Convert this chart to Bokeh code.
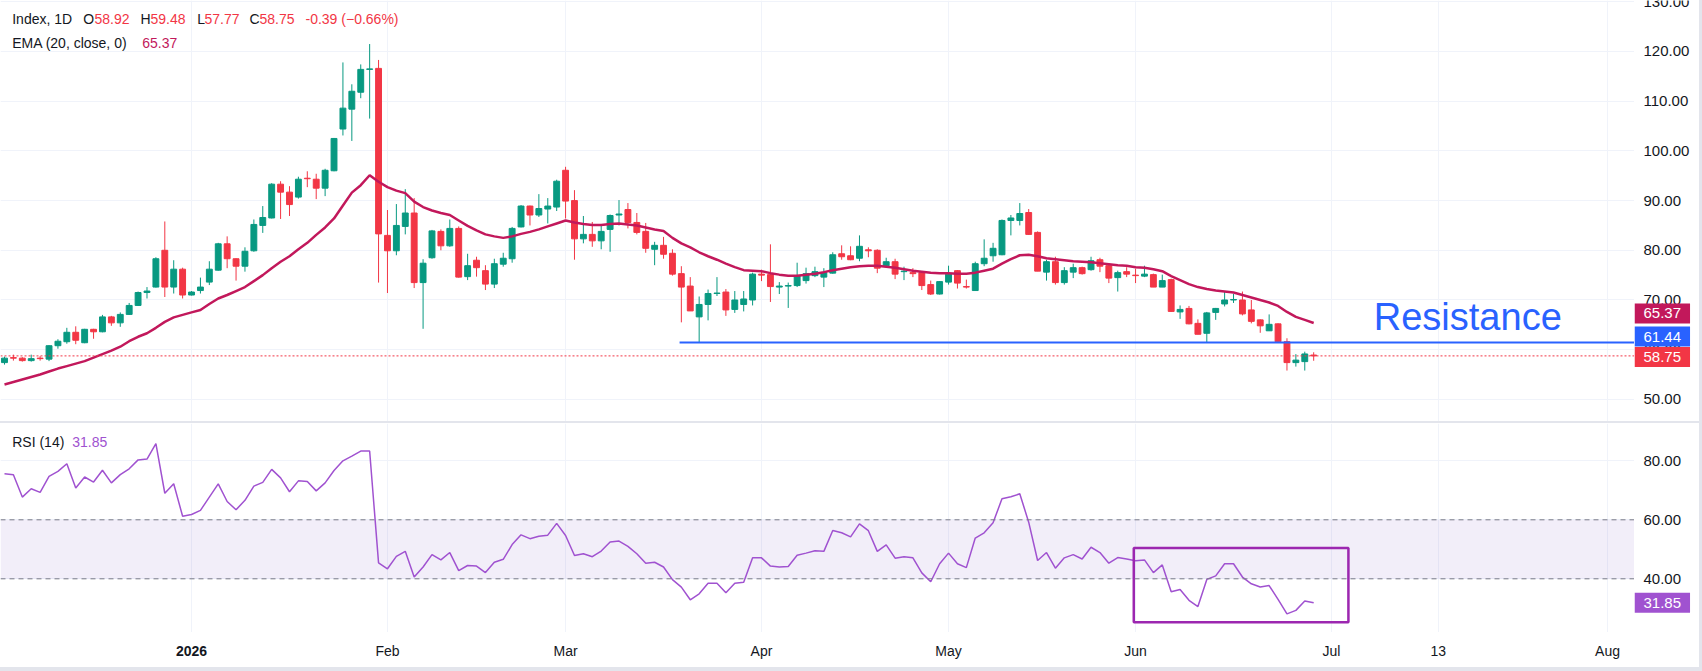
from bokeh.plotting import figure
from bokeh.layouts import column, row
from bokeh.models import (ColumnDataSource, Range1d, FixedTicker, Label, Span,
                          BoxAnnotation, Spacer)
from bokeh.core.properties import value
from bokeh.embed import file_html
from bokeh.resources import INLINE

# ---- daily OHLC bars (bar index 0 = first visible session) ----
opens = [
    57.4, 58.4, 58.3, 57.8, 58.3, 58.1, 60.8, 61.6, 63.5, 61.4,
    64.1, 63.6, 66.6, 65.4, 67.1, 68.9, 71.5, 72.6, 80.0, 72.6,
    76.2, 71.0, 71.9, 73.6, 76.0, 81.3, 78.3, 76.8, 79.9, 85.0,
    86.5, 93.3, 91.7, 90.7, 94.5, 94.3, 92.5, 96.0, 104.4, 108.4,
    111.8, 116.4, 116.6, 83.0, 79.9, 84.8, 87.5, 73.5, 78.5, 83.8,
    80.9, 84.4, 74.7, 78.0, 75.9, 73.2, 77.2, 78.3, 84.7, 88.9,
    87.1, 88.3, 88.7, 96.1, 90.0, 82.3, 83.2, 81.9, 84.2, 87.1,
    88.2, 85.6, 83.8, 80.2, 81.0, 79.4, 75.3, 72.8, 66.6, 69.1,
    71.3, 71.6, 68.1, 69.1, 70.0, 75.2, 75.1, 72.6, 72.8, 72.9,
    73.9, 74.9, 74.6, 75.4, 79.3, 78.9, 78.4, 80.1, 80.0, 76.9,
    77.7, 75.7, 75.5, 75.5, 73.1, 71.2, 73.6, 75.9, 72.7, 71.9,
    77.3, 78.9, 79.1, 86.0, 86.0, 87.6, 83.6, 75.6, 77.7, 73.5,
    75.6, 76.5, 76.1, 78.1, 76.9, 74.5, 75.7, 75.0, 74.8, 75.1,
    72.6, 74.1, 67.6, 68.3, 65.3, 63.3, 67.5, 69.2, 70.0, 70.0,
    68.0, 66.0, 63.8, 65.2, 61.6, 57.4, 57.6, 58.92,
]
highs = [
    58.6, 59.0, 58.5, 59.0, 58.7, 60.9, 62.1, 64.4, 64.7, 64.2,
    64.2, 67.0, 66.8, 67.5, 69.4, 71.7, 72.6, 78.6, 85.8, 78.0,
    76.5, 71.8, 74.5, 77.8, 81.5, 82.8, 78.4, 80.6, 86.2, 88.9,
    93.5, 93.9, 92.9, 94.8, 95.9, 95.4, 96.4, 102.6, 117.8, 113.4,
    117.4, 121.5, 118.3, 88.1, 89.3, 92.3, 90.5, 78.2, 84.1, 84.2,
    86.2, 84.8, 79.3, 78.7, 77.0, 78.3, 79.5, 84.7, 89.1, 89.0,
    91.3, 90.5, 94.2, 96.8, 92.1, 86.9, 85.7, 84.9, 87.2, 90.1,
    89.5, 87.5, 85.5, 81.7, 82.7, 80.2, 76.8, 74.6, 70.7, 72.1,
    74.6, 72.2, 71.8, 71.8, 75.5, 76.1, 81.2, 73.6, 73.5, 77.5,
    76.5, 76.7, 76.4, 79.6, 81.0, 80.8, 83.0, 80.6, 80.2, 78.5,
    78.3, 76.7, 76.4, 75.7, 73.9, 73.8, 76.9, 76.0, 74.1, 77.7,
    82.2, 81.5, 86.2, 87.1, 89.5, 88.3, 83.8, 78.1, 78.7, 76.6,
    77.3, 76.7, 78.7, 78.5, 77.3, 75.9, 76.6, 76.3, 76.9, 75.3,
    75.1, 74.3, 68.9, 68.8, 66.1, 67.6, 68.4, 71.7, 71.2, 71.7,
    70.0, 66.1, 67.1, 65.3, 62.3, 59.1, 59.6, 59.48,
]
lows = [
    57.0, 57.8, 57.6, 57.6, 57.8, 57.7, 60.2, 61.2, 61.1, 61.3,
    62.2, 63.5, 64.8, 64.6, 67.0, 68.8, 70.3, 72.5, 70.6, 71.3,
    70.3, 70.9, 71.3, 73.0, 75.9, 76.4, 73.9, 75.7, 79.7, 83.5,
    86.4, 86.3, 86.9, 90.4, 92.7, 90.3, 90.9, 95.9, 103.1, 102.0,
    110.6, 106.5, 73.5, 71.4, 79.0, 83.2, 72.4, 64.2, 78.3, 80.0,
    80.7, 74.5, 74.0, 74.7, 72.0, 72.4, 76.7, 77.5, 84.6, 85.0,
    86.7, 85.4, 87.9, 86.4, 78.1, 81.4, 80.7, 80.2, 79.7, 85.0,
    84.4, 83.2, 79.5, 77.0, 78.3, 74.9, 65.5, 67.8, 61.44, 65.9,
    70.8, 66.8, 67.4, 67.7, 68.9, 73.8, 69.6, 71.2, 68.4, 72.6,
    73.3, 74.6, 72.6, 75.3, 78.1, 78.0, 77.8, 78.6, 75.4, 76.6,
    74.2, 74.0, 74.6, 72.0, 71.0, 71.1, 73.1, 72.3, 72.3, 71.9,
    76.8, 77.7, 79.0, 83.0, 85.0, 83.1, 75.8, 73.9, 73.1, 73.1,
    74.4, 75.1, 75.9, 75.6, 73.4, 71.7, 74.6, 73.4, 74.6, 72.6,
    72.6, 67.6, 66.2, 65.1, 63.1, 61.5, 66.0, 68.7, 69.4, 66.9,
    65.3, 63.4, 63.8, 61.6, 55.8, 56.6, 55.8, 57.77,
]
closes = [
    58.3, 58.3, 57.8, 58.2, 58.2, 60.8, 61.7, 63.5, 61.9, 64.1,
    63.6, 66.6, 65.4, 67.1, 68.9, 71.5, 71.8, 78.3, 72.6, 76.2,
    71.0, 71.6, 72.6, 76.2, 81.3, 78.3, 76.8, 79.8, 85.2, 86.6,
    93.3, 91.7, 89.2, 94.3, 94.4, 92.5, 96.1, 102.5, 108.6, 112.0,
    116.4, 116.5, 83.3, 79.9, 85.0, 87.5, 73.5, 77.4, 83.9, 80.9,
    84.4, 74.6, 76.9, 76.5, 73.2, 77.3, 78.4, 84.4, 88.9, 87.1,
    88.4, 88.9, 93.9, 89.9, 82.3, 83.2, 81.9, 83.8, 87.0, 87.3,
    85.6, 83.6, 80.4, 81.0, 79.2, 75.2, 72.6, 67.8, 69.1, 71.3,
    71.4, 68.0, 70.0, 70.2, 75.2, 75.0, 72.7, 72.8, 72.9, 74.9,
    75.3, 75.7, 75.5, 79.1, 78.7, 78.1, 80.8, 79.9, 76.4, 77.7,
    75.2, 75.8, 75.3, 72.9, 71.2, 73.7, 75.2, 73.4, 72.6, 77.3,
    78.4, 80.4, 86.0, 86.5, 87.4, 83.2, 75.8, 77.7, 73.5, 75.9,
    76.5, 75.3, 77.9, 76.8, 74.4, 75.5, 75.2, 74.9, 75.2, 72.6,
    73.9, 67.7, 68.1, 65.2, 63.1, 67.4, 68.3, 70.0, 70.1, 67.2,
    65.7, 64.8, 65.1, 61.6, 57.4, 57.9, 59.14, 58.75,
]

# ---- EMA(20, close) as plotted ----
ema20 = [
    53.0, 53.5, 54.0, 54.5, 55.0, 55.6, 56.2, 56.7, 57.2, 57.7,
    58.4, 59.1, 59.8, 60.6, 61.7, 62.6, 63.3, 64.4, 65.6, 66.5,
    67.0, 67.5, 68.0, 69.2, 70.3, 71.0, 71.8, 72.6, 73.8, 75.0,
    76.4, 77.7, 78.8, 80.2, 81.5, 83.1, 84.6, 86.4, 89.0, 91.6,
    93.1, 95.1, 93.8, 92.7, 92.0, 91.5, 89.8, 88.7, 88.0, 87.5,
    87.1, 86.0, 84.9, 84.0, 83.2, 82.8, 82.5, 82.8, 83.3, 83.7,
    84.2, 84.8, 85.4, 86.0, 85.6, 85.3, 85.1, 85.1, 85.3, 85.4,
    85.2, 85.0, 84.6, 84.2, 83.9, 82.5, 81.4, 80.6, 79.6, 78.8,
    78.1, 77.3, 76.6, 76.0, 75.9, 75.8, 75.4, 75.1, 74.9, 74.9,
    75.1, 75.3, 75.6, 76.0, 76.3, 76.6, 76.8, 76.9, 76.9, 76.7,
    76.5, 76.2, 75.9, 75.7, 75.5, 75.4, 75.4, 75.3, 75.3, 75.5,
    75.9, 76.3, 77.3, 78.2, 79.0, 79.1, 78.8, 78.4, 78.2, 78.0,
    77.8, 77.7, 77.6, 77.4, 77.2, 77.0, 76.9, 76.6, 76.5, 76.2,
    75.8, 74.8, 74.0, 73.2, 72.6, 72.2, 71.9, 71.7, 71.5, 71.0,
    70.5, 70.0, 69.5, 68.8, 67.6, 66.6, 66.0, 65.37,
]

# ---- RSI(14) ----
rsi14 = [
    75.6, 75.3, 67.7, 70.5, 69.3, 74.7, 76.4, 79.0, 70.8, 74.5,
    72.8, 76.8, 72.5, 75.3, 77.3, 80.3, 80.6, 85.8, 69.0, 72.2,
    61.2, 61.8, 63.2, 67.7, 72.2, 66.2, 63.4, 66.6, 71.4, 72.7,
    77.1, 74.2, 69.5, 73.2, 73.0, 69.8, 72.5, 76.7, 80.0, 81.6,
    83.3, 83.3, 45.4, 43.4, 47.6, 49.3, 40.6, 44.0, 48.2, 46.4,
    48.9, 42.8, 44.5, 44.3, 42.1, 45.6, 46.6, 51.6, 54.9, 53.6,
    54.4, 54.8, 58.8, 54.7, 47.9, 48.5, 47.5, 49.4, 52.5, 52.8,
    51.0, 48.5, 45.3, 45.6, 44.0, 39.7, 37.2, 32.9, 34.9, 38.5,
    38.5, 35.3, 38.5, 38.8, 47.1, 47.1, 44.3, 44.0, 44.2, 48.0,
    48.7, 49.5, 49.3, 56.4, 55.6, 54.2, 58.6, 56.3, 49.3, 51.5,
    47.0, 47.5, 47.1, 42.0, 39.0, 45.1, 48.7, 45.1, 43.8, 53.8,
    55.6, 59.0, 67.1, 67.8, 68.8, 59.2, 46.2, 48.9, 43.6, 47.1,
    48.2, 46.7, 50.7, 48.9, 45.3, 47.2, 46.7, 46.1, 46.4, 42.1,
    44.7, 35.6, 36.4, 32.7, 30.6, 39.8, 41.0, 45.1, 45.1, 40.6,
    38.3, 37.2, 37.7, 33.0, 28.1, 29.3, 32.5, 31.85,
]

# ---- axis ticks ----
price_ticks = [50, 60, 70, 80, 90, 100, 110, 120, 130]
rsi_ticks = [40, 60, 80]
month_bars = [21, 43, 63, 85, 106, 127, 149, 161, 180]
month_labels = ["2026", "Feb", "Mar", "Apr", "May", "Jun", "Jul", "13", "Aug"]

# ---- drawings ----
resistance_level = 61.44
resistance_start_bar = 75.8
rsi_box_left, rsi_box_right = 126.8, 150.9
rsi_box_bottom, rsi_box_top = 25.3, 50.4
rsi_upper, rsi_lower = 60, 40

# ---- styling ----
UP, DOWN = "#089981", "#f23645"
EMA_C = "#c2185b"
RES_C = "#2962ff"
RSI_C = "#a052d0"
BOX_C = "#9c27b0"
TXT = "#131722"
GRID = "#f0f3fa"
EDGE = "#e3e5ec"
FONT = "Liberation Sans"

SCALE_W = 65          # price-scale column
EDGE_W = 3            # right frame edge
FRAME_W = 1634
PRICE_H, GAP_H, RSI_H, TIME_H, FOOT_H = 421, 2, 209, 35, 4
PX_PER_BAR = 8.906
x_start = -4 / PX_PER_BAR
x_end = x_start + FRAME_W / PX_PER_BAR

n = len(closes)
bars = list(range(n))
src = ColumnDataSource(dict(
    x=bars, open=opens, high=highs, low=lows, close=closes,
    top=[max(o, c) for o, c in zip(opens, closes)],
    bottom=[min(o, c) for o, c in zip(opens, closes)],
    color=[UP if c >= o else DOWN for o, c in zip(opens, closes)],
))

x_range = Range1d(x_start, x_end)


def bare_figure(width, height, xr, yr):
    f = figure(width=width, height=height, x_range=xr, y_range=yr,
               output_backend="svg", toolbar_location=None,
               x_axis_location=None, y_axis_location=None,
               min_border_left=0, min_border_right=0,
               min_border_top=0, min_border_bottom=0,
               outline_line_color=None, background_fill_color="white",
               border_fill_color="white")
    f.xgrid.grid_line_color = None
    f.ygrid.grid_line_color = None
    return f


def pane(height, yr, yticks):
    f = bare_figure(FRAME_W, height, x_range, yr)
    f.ygrid.ticker = FixedTicker(ticks=yticks)
    f.xgrid.ticker = FixedTicker(ticks=month_bars)
    f.ygrid.grid_line_color = GRID
    f.xgrid.grid_line_color = GRID
    return f


def scale(height, yr, yticks):
    s = bare_figure(SCALE_W, height, Range1d(0, SCALE_W), yr)
    s.text(x=[9] * len(yticks), y=yticks, text=[f"{t:.2f}" for t in yticks],
           text_font=value(FONT), text_font_size=value("15px"),
           text_color=TXT, text_baseline="middle", text_align="left")
    return s


def tag(s, y, text, bg, dy=0):
    s.add_layout(Label(
        x=0, y=y, y_offset=dy, text=text, text_color="white",
        text_font=FONT, text_font_size="15px", text_baseline="middle",
        text_align="left", background_fill_color=bg,
        padding=dict(left=9, right=9, top=5, bottom=5)))


def header(f, x, y, text, color):
    f.add_layout(Label(
        x=x, y=y, x_units="screen", y_units="screen", text=text,
        text_color=color, text_font=FONT, text_font_size="14px",
        text_baseline="middle", text_align="left"))


def edge(width, height):
    return Spacer(width=width, height=height, styles={"background-color": EDGE})


# ================= price pane =================
price_y = Range1d(45.55, 130.26)
p = pane(PRICE_H, price_y, price_ticks)

p.segment(x0="x", y0="low", x1="x", y1="high", line_color="color",
          line_width=1, source=src)
p.vbar(x="x", width=0.66, top="top", bottom="bottom", fill_color="color",
       line_color="color", line_width=1, source=src)
p.line(bars, ema20, line_color=EMA_C, line_width=2.5)

p.ray(x=[resistance_start_bar], y=[resistance_level], length=0, angle=0,
      line_color=RES_C, line_width=2)
p.add_layout(Span(location=closes[-1], dimension="width", line_color=DOWN,
                  line_width=1, line_dash="2 2"))
p.add_layout(Label(x=153.75, y=66.54, text="Resistance", text_color=RES_C,
                   text_font=FONT, text_font_size="38px",
                   text_baseline="middle", text_align="left"))

chg = closes[-1] - closes[-2]
pct = chg / closes[-2] * 100
y1, y2 = PRICE_H - 18, PRICE_H - 42
header(p, 11.7, y1, "Index, 1D", TXT)
header(p, 82.7, y1, "O", TXT)
header(p, 94, y1, f"{opens[-1]:.2f}", DOWN)
header(p, 140, y1, "H", TXT)
header(p, 150, y1, f"{highs[-1]:.2f}", DOWN)
header(p, 196.7, y1, "L", TXT)
header(p, 204, y1, f"{lows[-1]:.2f}", DOWN)
header(p, 249, y1, "C", TXT)
header(p, 259, y1, f"{closes[-1]:.2f}", DOWN)
header(p, 305, y1, f"{chg:.2f} ({pct:.2f}%)".replace("(-", "(\u2212"), DOWN)
header(p, 11.7, y2, "EMA (20, close, 0)", TXT)
header(p, 141.7, y2, f"{ema20[-1]:.2f}", EMA_C)

ps = scale(PRICE_H, price_y, price_ticks)
tag(ps, ema20[-1], f"{ema20[-1]:.2f}", EMA_C, dy=9.5)
tag(ps, resistance_level, f"{resistance_level:.2f}", RES_C, dy=6)
tag(ps, closes[-1], f"{closes[-1]:.2f}", DOWN, dy=-1)

# ================= RSI pane =================
rsi_y = Range1d(21.8, 92.64)
r = pane(RSI_H, rsi_y, rsi_ticks)
r.add_layout(BoxAnnotation(bottom=rsi_lower, top=rsi_upper, fill_color="#7e57c2",
                           fill_alpha=0.1, line_color=None, level="underlay"))
for lvl in (rsi_upper, rsi_lower):
    r.add_layout(Span(location=lvl, dimension="width", line_color="#787b86",
                      line_width=1, line_dash="5 4"))
r.line(bars, rsi14, line_color=RSI_C, line_width=1.5)
r.quad(left=[rsi_box_left], right=[rsi_box_right], top=[rsi_box_top],
       bottom=[rsi_box_bottom], fill_color=None, line_color=BOX_C, line_width=2.5)
header(r, 11.7, RSI_H - 18.7, "RSI (14)", TXT)
header(r, 71.7, RSI_H - 18.7, f"{rsi14[-1]:.2f}", RSI_C)

rs = scale(RSI_H, rsi_y, rsi_ticks)
tag(rs, rsi14[-1], f"{rsi14[-1]:.2f}", RSI_C)

# ================= time scale =================
t_w = FRAME_W + SCALE_W
t = bare_figure(t_w, TIME_H, Range1d(x_start, x_start + t_w / PX_PER_BAR),
                Range1d(0, TIME_H))
t.text(x=month_bars[:1], y=[TIME_H - 18], text=month_labels[:1],
       text_font=value(FONT), text_font_size=value("14px"),
       text_font_style="bold", text_color=TXT,
       text_align="center", text_baseline="middle")
t.text(x=month_bars[1:], y=[TIME_H - 18] * (len(month_bars) - 1),
       text=month_labels[1:], text_font=value(FONT),
       text_font_size=value("14px"), text_color=TXT,
       text_align="center", text_baseline="middle")

full_w = FRAME_W + SCALE_W + EDGE_W
layout = column(
    row(p, ps, edge(EDGE_W, PRICE_H)),
    edge(full_w, GAP_H),
    row(r, rs, edge(EDGE_W, RSI_H)),
    row(t, edge(EDGE_W, TIME_H)),
    edge(full_w, FOOT_H),
    spacing=0, styles={"background-color": "white"},
)
open("out.html", "w").write(file_html(layout, INLINE, title="Index 1D"))
